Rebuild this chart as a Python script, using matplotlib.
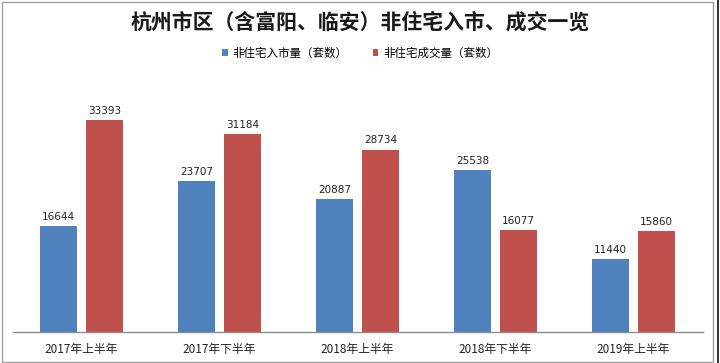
import matplotlib
matplotlib.use("Agg")
import matplotlib.pyplot as plt
import numpy as np
from matplotlib.patches import Rectangle

plt.rcParams['font.family'] = ['Noto Sans CJK SC', 'DejaVu Sans']

categories = ["2017年上半年", "2017年下半年", "2018年上半年", "2018年下半年", "2019年上半年"]
supply = [16644, 23707, 20887, 25538, 11440]
deals = [33393, 31184, 28734, 16077, 15860]
series_names = ["非住宅入市量（套数）", "非住宅成交量（套数）"]
title = "杭州市区（含富阳、临安）非住宅入市、成交一览"

blue = "#4F81BD"
red = "#C0504D"

W, H = 720, 363
fig = plt.figure(figsize=(W / 100, H / 100), dpi=100)

# axes: x from 12.5 to 702.5 px, y from 75 to 332 px (top-down)
ax_left, ax_right = 12.5, 702.5
ax_top, ax_bottom = 75, 332
ax = fig.add_axes([ax_left / W, 1 - ax_bottom / H, (ax_right - ax_left) / W, (ax_bottom - ax_top) / H])

x = np.arange(len(categories))
bw = 0.268
off = 0.167
b1 = ax.bar(x - off, supply, bw, color=blue, label=series_names[0])
b2 = ax.bar(x + off, deals, bw, color=red, label=series_names[1])

ymax = (ax_bottom - ax_top) / (212 / 33393)
ax.set_ylim(0, ymax)
ax.set_xlim(-0.5, len(categories) - 0.5)

for bars in (b1, b2):
    ax.bar_label(bars, labels=[str(v) for v in bars.datavalues], padding=3,
                 fontsize=7.5, color="#222222", family=['DejaVu Sans'])

ax.set_xticks(x)
ax.set_xticklabels(categories, fontsize=8.5, color="#222222")
ax.tick_params(axis='x', length=0, pad=8)
ax.set_yticks([])
for s in ("top", "right", "left"):
    ax.spines[s].set_visible(False)
ax.spines["bottom"].set_color("#8c8c8c")
ax.spines["bottom"].set_linewidth(1.0)

fig.text(0.5, 1 - 22 / H, title, ha="center", va="center", fontsize=15,
         fontweight=600, color="#1a1a1a")

leg = fig.legend(handles=[b1, b2], labels=series_names, loc="center",
                 bbox_to_anchor=(0.5, 1 - 53 / H), ncol=2, frameon=False,
                 fontsize=8.3, handlelength=0.5, handleheight=0.5,
                 columnspacing=2.2, handletextpad=0.4)

# outer border
fig.patches.append(Rectangle((2 / W, 1.5 / H), (713 - 2) / W, (361 - 1.5) / H,
                             transform=fig.transFigure, fill=False,
                             edgecolor="#a0a0a0", linewidth=1.0))
fig.patches.append(Rectangle((716.5 / W, 0), 2 / W, 1,
                             transform=fig.transFigure, fill=True,
                             facecolor="#333333", edgecolor="none"))

fig.savefig("out.png", dpi=100)
